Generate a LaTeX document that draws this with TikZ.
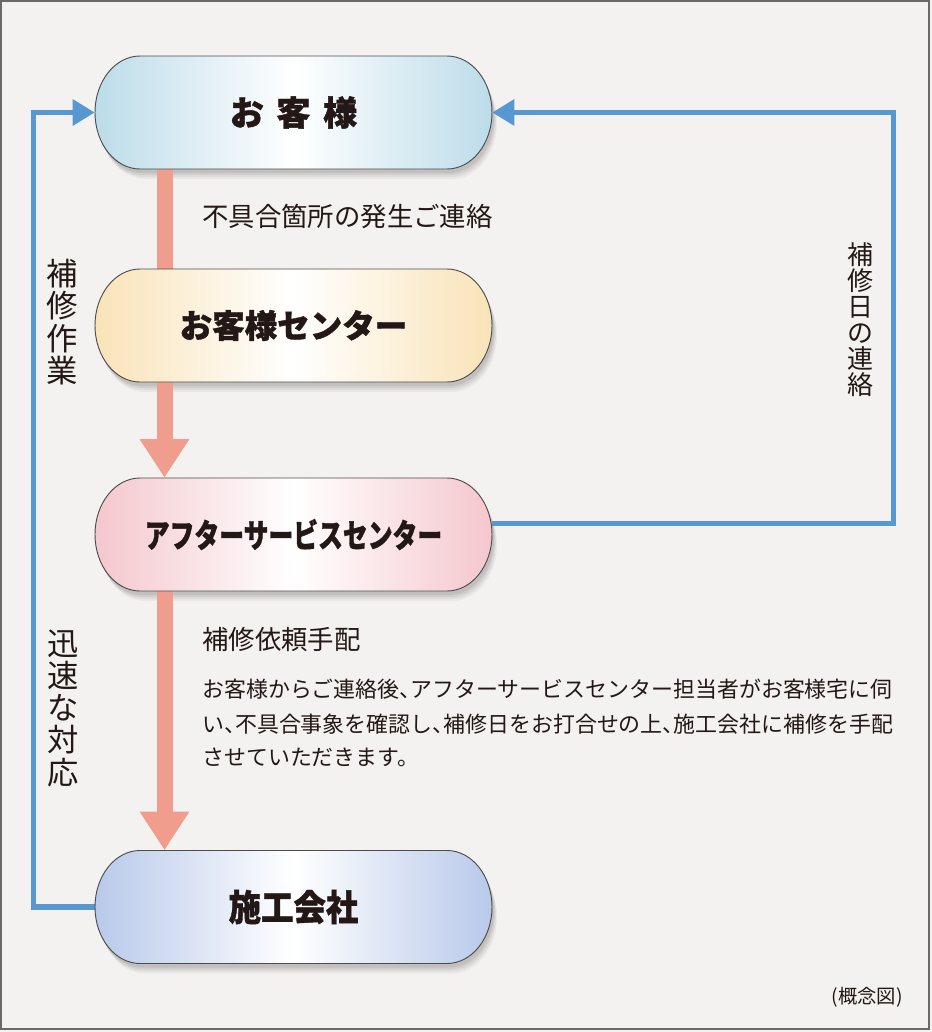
\documentclass[tikz,border=0pt]{standalone}
\usepackage{fontspec}
\usepackage{graphicx}
\newfontfamily\jp{Noto Sans CJK JP}
\newfontfamily\jpheavy{Noto Sans CJK JP}[BoldFeatures={FakeBold=1.2}]
\usetikzlibrary{arrows.meta}
\definecolor{bgc}{RGB}{243,242,240}
\definecolor{framec}{RGB}{105,105,105}
\definecolor{bluec}{RGB}{88,152,210}
\definecolor{pinkc}{RGB}{240,157,141}
\definecolor{ink}{RGB}{35,24,21}
\definecolor{cA}{RGB}{188,220,233}
\definecolor{cB}{RGB}{249,227,184}
\definecolor{cC}{RGB}{244,199,205}
\definecolor{cD}{RGB}{184,201,234}
\pgfdeclarelayer{back}
\pgfdeclarelayer{mid}
\pgfsetlayers{back,mid,main}
\newcommand\tten{\makebox[0.5em][l]{、}}
\newcommand\stadium[3]{%
  \path[#3] ({#1+153.5},{#2-56.5}) arc[start angle=-90,end angle=90,x radius=45,y radius=56.5]
    -- ({#1-153.5},{#2+56.5}) arc[start angle=90,end angle=270,x radius=45,y radius=56.5] -- cycle;}
\newcommand\softshadow[2]{%
  \foreach \s/\op in {10/0.04,8/0.05,6/0.06,4/0.07}{\stadium{#1+0.5*\s}{#2+\s}{fill=black,opacity=\op}}}
\begin{document}
\begin{tikzpicture}[x=0.75pt,y=-0.75pt,
  boxlabel/.style={text=ink,inner sep=0pt,minimum width=297.75pt,minimum height=84.75pt},
  note/.style={text=ink,inner sep=0pt,font=\jp\fontsize{19.8pt}{23pt}\selectfont},
  body/.style={text=ink,inner sep=0pt,anchor=west,font=\jp\fontsize{16.45pt}{20pt}\selectfont},
  vlabel/.style={text=ink,inner sep=0pt,align=center},
  pinkarrow/.style={draw=pinkc,line width=12pt,-{Triangle[length=29pt,width=35.25pt]}},
  bluearrow/.style={draw=bluec,line width=3.8pt,-{Triangle[length=16.5pt,width=19pt]}},
  outline/.style={draw=black!70,line width=0.7pt}]
\useasboundingbox (0,0) rectangle (932,1032);
\begin{pgfonlayer}{back}
  \fill[bgc] (0,0) rectangle (932,1032);
  \draw[framec,line width=1.2pt] (1,1) rectangle (929,1029);
\end{pgfonlayer}

% nodes (labels)
\node[boxlabel,font=\jpheavy\bfseries\fontsize{25.5pt}{30pt}\selectfont] (n1) at (293.5,112.5) {お\hspace{9.5pt}客\hspace{9.5pt}様};
\node[boxlabel,font=\jpheavy\bfseries\fontsize{24.4pt}{30pt}\selectfont] (n2) at (293.5,325.5) {お客様センター};
\node[boxlabel,font=\jpheavy\bfseries\fontsize{24.5pt}{30pt}\selectfont] (n3) at (293.5,534.5) {\scalebox{0.76}[1]{アフターサービスセンター}};
\node[boxlabel,font=\jpheavy\bfseries\fontsize{27pt}{30pt}\selectfont] (n4) at (293.5,907) {\scalebox{0.9}[1]{施工会社}};

\node[note,anchor=west] (t1) at (202,216) {不具合箇所の発生ご連絡};
\node[note,anchor=west] (t2) at (202,639) {補修依頼手配};
\node[body] (p1) at (202,689) {お客様からご連絡後\tten アフターサービスセンター担当者がお客様宅に伺};
\node[body] (p2) at (202,724) {い\tten 不具合事象を確認し\tten 補修日をお打合せの上\tten 施工会社に補修を手配};
\node[body] (p3) at (202,757) {させていただきます。};

\node[vlabel,font=\jp\fontsize{23.5pt}{24.4pt}\selectfont] (v1) at (62,322) {補\\修\\作\\業};
\node[vlabel,font=\jp\fontsize{23.5pt}{24.2pt}\selectfont] (v2) at (63,708) {迅\\速\\な\\対\\応};
\node[vlabel,font=\jp\fontsize{19.5pt}{19.5pt}\selectfont] (v3) at (860,320) {補\\修\\日\\の\\連\\絡};

\node[text=ink,inner sep=0pt,font=\jp\fontsize{14.5pt}{16pt}\selectfont] (cap) at (867,997) {(概念図)};

\begin{pgfonlayer}{mid}
  \softshadow{293.5}{112.5}
  \softshadow{293.5}{325.5}
  \softshadow{293.5}{534.5}
  \softshadow{293.5}{907}
  % connectors
  \draw[bluearrow] (n4.west) -- ++(-61,0) |- (n1.west);
  \draw[bluearrow] ([yshift=8.6pt]n3.east) -- ++(401,0) |- (n1.east);
  \draw[pinkarrow] ([xshift=-96.75pt]n1.south) -- ([xshift=-96.75pt]n3.north);
  \draw[pinkarrow] ([xshift=-96.75pt]n3.south) -- ([xshift=-96.75pt]n4.north);
  % shapes
  \stadium{293.5}{112.5}{outline,left color=cA,right color=cA,middle color=white}
  \stadium{293.5}{325.5}{outline,left color=cB,right color=cB,middle color=white}
  \stadium{293.5}{534.5}{outline,left color=cC,right color=cC,middle color=white}
  \stadium{293.5}{907}{outline,left color=cD,right color=cD,middle color=white}
\end{pgfonlayer}
\end{tikzpicture}
\end{document}
